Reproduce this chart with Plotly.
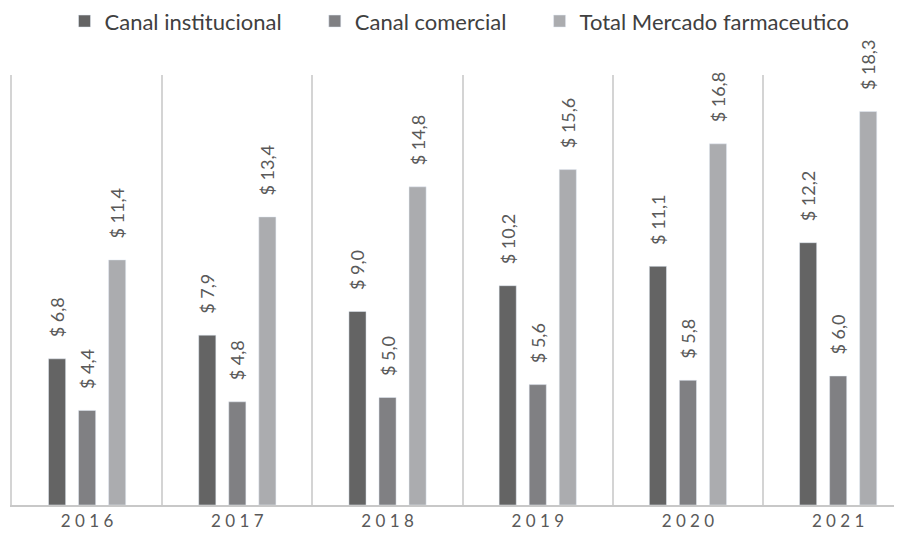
import plotly.graph_objects as go

years = ["2016", "2017", "2018", "2019", "2020", "2021"]
year_labels = ["2 0 1 6", "2 0 1 7", "2 0 1 8", "2 0 1 9", "2 0 2 0", "2 0 2 1"]
institucional = [6.8, 7.9, 9.0, 10.2, 11.1, 12.2]
comercial = [4.4, 4.8, 5.0, 5.6, 5.8, 6.0]
total = [11.4, 13.4, 14.8, 15.6, 16.8, 18.3]

NB = "\u00a0"
series = [
    ("Canal institucional" + NB * 5, institucional, "#646464"),
    ("Canal comercial" + NB * 5, comercial, "#808083"),
    ("Total Mercado farmaceutico", total, "#abacaf"),
]

def fmt(v):
    return NB * 4 + "$ " + f"{v:.1f}".replace(".", ",")

xpos = list(range(len(years)))
fig = go.Figure()
for name, vals, color in series:
    fig.add_trace(go.Bar(
        x=xpos, y=vals, name=name, marker_color=color,
        text=[fmt(v) for v in vals], textposition="outside", textangle=-90,
        constraintext="none",
        textfont=dict(size=18, color="#595959", family="Lato"),
        cliponaxis=False,
    ))

boundaries = [i - 0.5 for i in range(len(years) + 1)]
fig.update_layout(
    width=902, height=541,
    margin=dict(l=4, r=8, t=67, b=44, autoexpand=False),
    plot_bgcolor="white", paper_bgcolor="white",
    barmode="group", bargap=0.4, bargroupgap=0.43,
    font=dict(family="Lato", color="#595959"),
    showlegend=True,
    legend=dict(orientation="h", x=0.059, xanchor="left", y=1.125, yref="paper",
                yanchor="middle", font=dict(size=22, color="#404040")),
    xaxis=dict(range=[-0.5, 5.425], tickmode="array", tickvals=xpos, ticktext=year_labels,
               showgrid=False, showline=True, linecolor="#c8c8c8", linewidth=2,
               tickfont=dict(size=17, color="#595959"), ticks="",
               minor=dict(tickmode="array", tickvals=boundaries, showgrid=True,
                          gridcolor="#d4d4d4", gridwidth=2)),
    yaxis=dict(range=[0, 20], showgrid=False, showticklabels=False, zeroline=False,
               showline=True, linecolor="#d4d4d4", linewidth=2),
)
fig.write_html("out.html")
